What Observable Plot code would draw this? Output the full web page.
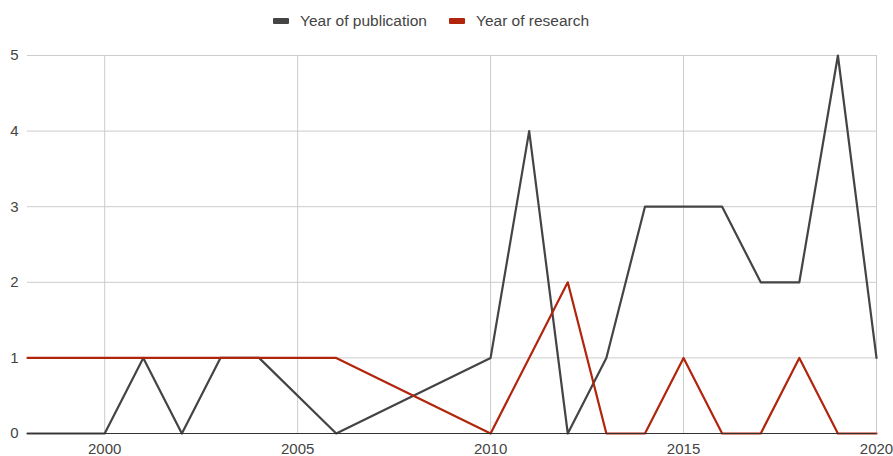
<!DOCTYPE html>
<html>
<head>
<meta charset="utf-8">
<script src="https://cdn.jsdelivr.net/npm/d3@7"></script>
<script src="https://cdn.jsdelivr.net/npm/@observablehq/plot@0.6"></script>
<style>
  html, body { margin: 0; padding: 0; background: #fff; }
  body { width: 893px; height: 456px; overflow: hidden; font-family: "Liberation Sans", Arial, sans-serif; }
  #legend { height: 40px; display: flex; align-items: center; justify-content: flex-start; padding-left: 273px; box-sizing: border-box; font-size: 15.5px; color: #444; padding-top: 2px; }
  .item { display: flex; align-items: center; margin-right: 22px; }
  .sw { width: 16px; height: 6px; border-radius: 1px; margin-right: 11px; }
</style>
</head>
<body>
<div id="legend"></div>
<div id="chart"></div>
<script>
const seriesNames = ["Year of publication", "Year of research"];
const seriesColors = ["#444444", "#b0250c"];

const pubYears  = [1998, 1999, 2000, 2001, 2002, 2003, 2004, 2006, 2010, 2011, 2012, 2013, 2014, 2015, 2016, 2017, 2018, 2019, 2020];
const pubValues = [0,    0,    0,    1,    0,    1,    1,    0,    1,    4,    0,    1,    3,    3,    3,    2,    2,    5,    1];

const resYears  = [1998, 1999, 2000, 2001, 2002, 2003, 2004, 2005, 2006, 2010, 2011, 2012, 2013, 2014, 2015, 2016, 2017, 2018, 2019, 2020];
const resValues = [1,    1,    1,    1,    1,    1,    1,    1,    1,    0,    1,    2,    0,    0,    1,    0,    0,    1,    0,    0];

const xTicks = [2000, 2005, 2010, 2015, 2020];
const yTicks = [0, 1, 2, 3, 4, 5];

const data = [
  ...pubYears.map((y, i) => ({year: y, value: pubValues[i], series: seriesNames[0]})),
  ...resYears.map((y, i) => ({year: y, value: resValues[i], series: seriesNames[1]}))
];

const legend = document.getElementById("legend");
seriesNames.forEach((n, i) => {
  const d = document.createElement("div");
  d.className = "item";
  d.innerHTML = `<span class="sw" style="background:${seriesColors[i]}"></span><span>${n}</span>`;
  legend.appendChild(d);
});

const chart = Plot.plot({
  width: 893,
  height: 416,
  marginTop: 15,
  marginBottom: 23,
  marginLeft: 27,
  marginRight: 17,
  style: {fontFamily: "'Liberation Sans', Arial, sans-serif", fontSize: "15px", color: "#444", background: "#fff", overflow: "visible"},
  x: {domain: [1998, 2020], ticks: xTicks, tickFormat: d3.format("d"), label: null},
  y: {domain: [0, 5], ticks: yTicks, tickFormat: d3.format("d"), label: null},
  color: {domain: seriesNames, range: seriesColors},
  marks: [
    Plot.gridX(xTicks, {stroke: "#cccccc", strokeOpacity: 1, strokeWidth: 1}),
    Plot.gridY(yTicks, {stroke: "#cccccc", strokeOpacity: 1, strokeWidth: 1}),
    Plot.axisX({ticks: xTicks, tickSize: 0, tickPadding: 10, tickFormat: d3.format("d"), fill: "#444", fontSize: 15, label: null}),
    Plot.axisY({ticks: yTicks, tickSize: 0, tickPadding: 9, tickFormat: d3.format("d"), fill: "#444", fontSize: 15, label: null}),
    Plot.line(data, {x: "year", y: "value", z: "series", stroke: "series", strokeWidth: 2.2, curve: "linear"}),
    Plot.ruleY([0], {stroke: "#333", strokeWidth: 1})
  ]
});
document.getElementById("chart").appendChild(chart);
</script>
</body>
</html>
